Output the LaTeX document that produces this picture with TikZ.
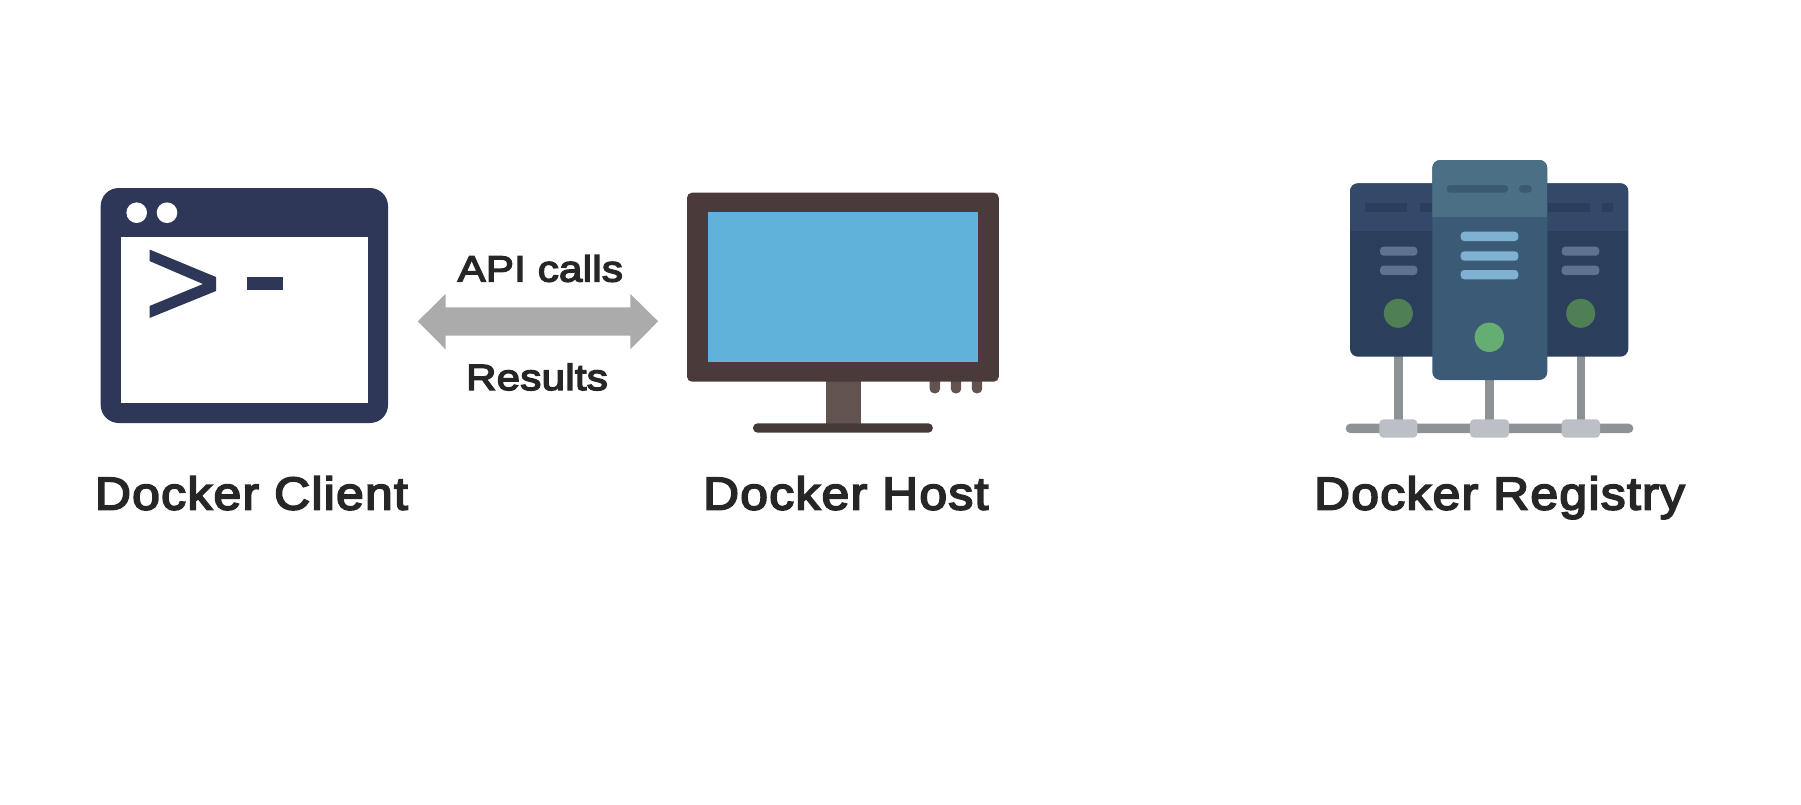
\documentclass[tikz,border=0pt]{standalone}
\usepackage{fontspec}
\setmainfont{Liberation Sans}
\newfontfamily\lblfont[FakeBold=4,FakeStretch=1.08,LetterSpace=2.9]{Liberation Sans}
\newfontfamily\smlfont[FakeBold=4,FakeStretch=1.15,LetterSpace=0.8]{Liberation Sans}
\definecolor{clientc}{HTML}{2E3757}
\definecolor{framec}{HTML}{4A3A3A}
\definecolor{screenc}{HTML}{60B2DA}
\definecolor{stemc}{HTML}{625250}
\definecolor{basec}{HTML}{463A39}
\definecolor{arrowc}{HTML}{ABABAB}
\definecolor{sbody}{HTML}{2B3F5C}
\definecolor{shead}{HTML}{34486A}
\definecolor{sdark}{HTML}{2C3E5E}
\definecolor{sbar}{HTML}{5F7390}
\definecolor{sgreen}{HTML}{4F7F55}
\definecolor{cbody}{HTML}{3A5A75}
\definecolor{chead}{HTML}{4B6F85}
\definecolor{cdark}{HTML}{3A5A70}
\definecolor{cbar}{HTML}{7FB2D2}
\definecolor{cgreen}{HTML}{65AD73}
\definecolor{postc}{HTML}{8D9296}
\definecolor{jointc}{HTML}{BCC0C6}
\definecolor{textc}{HTML}{262626}
\tikzset{
  biglabel/.style={anchor=base,inner sep=0pt,text=textc,font=\lblfont\fontsize{46}{46}\selectfont},
  smalllabel/.style={anchor=base,inner sep=0pt,text=textc,font=\smlfont\fontsize{36.5}{36.5}\selectfont},
  pill/.style={rounded corners=3.5pt}
}
\begin{document}
\begin{tikzpicture}[x=1pt,y=-1pt]
\useasboundingbox (0,0) rectangle (1801,804);
% client
\fill[clientc,rounded corners=18pt] (100.7,188) rectangle (388,423);
\fill[white] (120.7,237) rectangle (367.7,403);
\fill[white] (136.7,212.7) circle[radius=10.3];
\fill[white] (167,212.7) circle[radius=10.3];
\fill[clientc] (149.5,249.5) -- (216,277) -- (216,291) -- (149.5,318) -- (149.5,306) -- (203,284) -- (149.5,261) -- cycle;
\fill[clientc] (246.7,276.7) rectangle (283.3,290);
% arrow
\fill[arrowc] (417.8,321.3) -- (445.5,294) -- (445.5,307.3) -- (630.4,307.3) -- (630.4,294) -- (658.1,321.3) -- (630.4,349.3) -- (630.4,335.7) -- (445.5,335.7) -- (445.5,349.3) -- cycle;
% monitor
\foreach \bx in {934.8,956,977}{
  \fill[stemc,rounded corners=4.5pt] (\bx-5.2,372) rectangle (\bx+5.2,393.3);
}
\fill[stemc] (825.7,381) rectangle (860.5,424);
\fill[framec,rounded corners=5pt] (687,192.7) rectangle (998.8,381.7);
\fill[screenc] (707.9,211.7) rectangle (977.9,362.3);
\fill[basec,rounded corners=4.5pt] (753,423.3) rectangle (932.8,432.7);
% registry posts and bus
\fill[postc] (1393.7,350) rectangle (1402.7,425);
\fill[postc] (1485,375) rectangle (1493.7,425);
\fill[postc] (1576.5,350) rectangle (1585.2,425);
\fill[postc,rounded corners=4.5pt] (1345.7,423.7) rectangle (1633.3,433);
\fill[jointc,rounded corners=4pt] (1379.3,419.3) rectangle (1417.3,437.7);
\fill[jointc,rounded corners=4pt] (1470,419.3) rectangle (1509,437.7);
\fill[jointc,rounded corners=4pt] (1561.7,419.3) rectangle (1600,437.7);
% side servers
\fill[sbody,rounded corners=8pt] (1350,183.3) rectangle (1628.3,356.7);
\begin{scope}
\clip[rounded corners=8pt] (1350,183.3) rectangle (1628.3,356.7);
\fill[shead] (1350,183.3) rectangle (1628.3,230.7);
\end{scope}
\fill[sdark] (1365,203.3) rectangle (1406.7,211.7);
\fill[sdark] (1420,203.3) rectangle (1432,211.7);
\fill[sdark] (1548,203.3) rectangle (1590,211.7);
\fill[sdark] (1601.7,203.3) rectangle (1613.3,211.7);
\fill[sbar,pill] (1380,246.7) rectangle (1417.3,255.7);
\fill[sbar,pill] (1380,265.7) rectangle (1417.3,275);
\fill[sbar,pill] (1561.7,246.7) rectangle (1599.3,255.7);
\fill[sbar,pill] (1561.7,265.7) rectangle (1599.3,275);
\fill[sgreen] (1398.3,313.3) circle[radius=14.5];
\fill[sgreen] (1580.7,313.3) circle[radius=14.5];
% centre server
\fill[cbody,rounded corners=8pt] (1432.3,160) rectangle (1547.3,380);
\begin{scope}
\clip[rounded corners=8pt] (1432.3,160) rectangle (1547.3,380);
\fill[chead] (1432.3,160) rectangle (1547.3,217.3);
\end{scope}
\fill[cdark,rounded corners=3.5pt] (1446.7,185) rectangle (1508,192.7);
\fill[cdark,rounded corners=3.5pt] (1519,185) rectangle (1531.7,192.7);
\fill[cbar,pill] (1460.7,231.7) rectangle (1518.3,241);
\fill[cbar,pill] (1460.7,251.3) rectangle (1518.3,260.7);
\fill[cbar,pill] (1460.7,270) rectangle (1518.3,279.3);
\fill[cgreen] (1489.3,337.3) circle[radius=14.7];
% labels
\node[biglabel] (clientlabel) at (251.5,509.5) {Docker Client};
\node[biglabel] (hostlabel) at (845.8,509.5) {Docker Host};
\node[biglabel] (registrylabel) at (1499.5,509.5) {Docker Registry};
\node[smalllabel] (apilabel) at (540.3,281.5) {API calls};
\node[smalllabel] (resultslabel) at (537,390) {Results};
\end{tikzpicture}
\end{document}
